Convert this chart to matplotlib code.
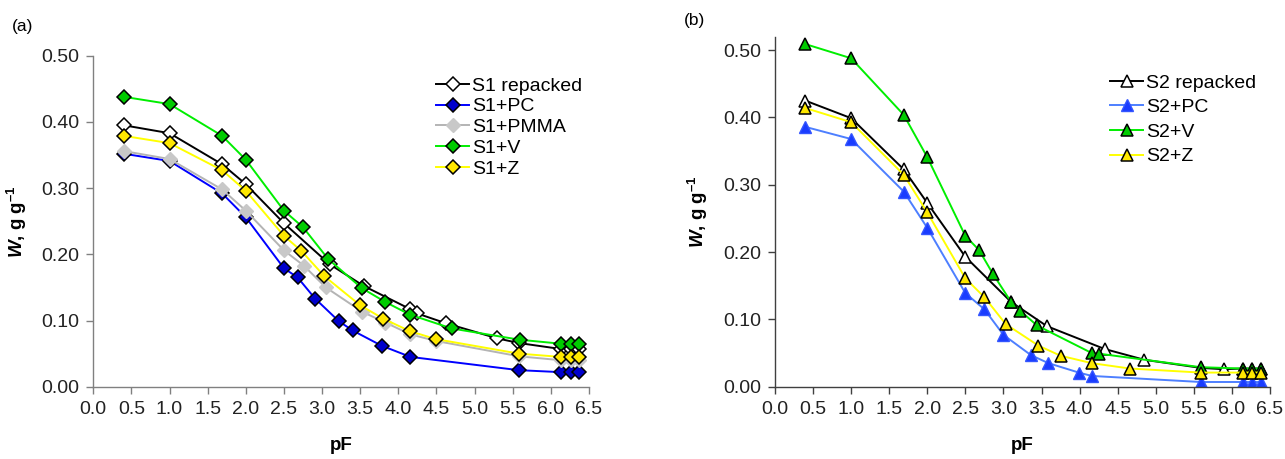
import matplotlib
matplotlib.use("Agg")
import matplotlib.pyplot as plt
from matplotlib.ticker import FormatStrFormatter, MultipleLocator

plt.rcParams['font.family'] = ['Liberation Sans', 'DejaVu Sans']
plt.rcParams['mathtext.fontset'] = 'custom'
plt.rcParams['mathtext.rm'] = 'Liberation Sans'
plt.rcParams['mathtext.bf'] = 'Liberation Sans:bold'
plt.rcParams['mathtext.it'] = 'Liberation Sans:italic'
plt.rcParams['mathtext.bfit'] = 'Liberation Sans:bold:italic'

# ---- (a) soil S1 ----
s1_rep_pf = [0.40, 1.00, 1.69, 2.00, 2.50, 3.10, 3.55, 4.16, 4.24, 4.62, 5.30, 5.58, 6.13, 6.26, 6.37]
s1_rep_w = [0.395, 0.383, 0.336, 0.306, 0.247, 0.185, 0.152, 0.117, 0.111, 0.096, 0.073, 0.066, 0.057, 0.057, 0.057]

s1_pc_pf = [0.40, 1.00, 1.69, 2.00, 2.50, 2.68, 2.91, 3.22, 3.40, 3.78, 4.16, 5.58, 6.13, 6.26, 6.37]
s1_pc_w = [0.352, 0.341, 0.292, 0.256, 0.179, 0.165, 0.133, 0.099, 0.085, 0.062, 0.045, 0.025, 0.022, 0.022, 0.022]

s1_pmma_pf = [0.40, 1.00, 1.69, 2.00, 2.50, 2.76, 3.05, 3.53, 3.83, 4.16, 4.50, 5.58, 6.13, 6.26, 6.37]
s1_pmma_w = [0.356, 0.344, 0.298, 0.266, 0.206, 0.183, 0.150, 0.113, 0.097, 0.079, 0.069, 0.046, 0.040, 0.040, 0.040]

s1_v_pf = [0.40, 1.00, 1.69, 2.00, 2.50, 2.75, 3.08, 3.52, 3.83, 4.15, 4.70, 5.59, 6.13, 6.26, 6.37]
s1_v_w = [0.438, 0.427, 0.379, 0.343, 0.266, 0.241, 0.193, 0.149, 0.128, 0.109, 0.088, 0.071, 0.065, 0.065, 0.065]

s1_z_pf = [0.40, 1.00, 1.69, 2.00, 2.50, 2.73, 3.03, 3.50, 3.80, 4.15, 4.49, 5.58, 6.13, 6.26, 6.37]
s1_z_w = [0.379, 0.368, 0.327, 0.296, 0.228, 0.205, 0.167, 0.123, 0.103, 0.084, 0.072, 0.050, 0.045, 0.045, 0.045]

# ---- (b) soil S2 ----
s2_rep_pf = [0.40, 1.00, 1.69, 2.00, 2.50, 3.10, 3.57, 4.33, 4.85, 5.59, 5.89, 6.14, 6.27, 6.38]
s2_rep_w = [0.425, 0.399, 0.323, 0.273, 0.193, 0.126, 0.090, 0.056, 0.040, 0.028, 0.026, 0.027, 0.027, 0.027]

s2_pc_pf = [0.40, 1.00, 1.69, 2.00, 2.50, 2.75, 3.00, 3.36, 3.59, 3.99, 4.16, 5.59, 6.14, 6.27, 6.38]
s2_pc_w = [0.386, 0.368, 0.290, 0.236, 0.139, 0.115, 0.077, 0.047, 0.035, 0.021, 0.016, 0.007, 0.007, 0.007, 0.007]

s2_v_pf = [0.40, 1.00, 1.69, 2.00, 2.50, 2.68, 2.86, 3.10, 3.22, 3.44, 4.16, 4.26, 5.59, 6.14, 6.27, 6.38]
s2_v_w = [0.509, 0.488, 0.404, 0.341, 0.224, 0.203, 0.168, 0.126, 0.113, 0.091, 0.050, 0.049, 0.029, 0.027, 0.027, 0.027]

s2_z_pf = [0.40, 1.00, 1.69, 2.00, 2.50, 2.75, 3.03, 3.46, 3.75, 4.16, 4.66, 5.59, 6.14, 6.27, 6.38]
s2_z_w = [0.414, 0.393, 0.315, 0.259, 0.161, 0.133, 0.093, 0.061, 0.046, 0.035, 0.027, 0.021, 0.021, 0.021, 0.021]

fig = plt.figure(figsize=(12.85, 4.59), dpi=100)
ax1 = fig.add_axes([0.0726, 0.1575, 0.3857, 0.721])
ax2 = fig.add_axes([0.6031, 0.1575, 0.3852, 0.7625])


def style_axis(ax, ytop, spine_col):
    ax.set_xlim(0, 6.5)
    ax.set_ylim(0, ytop)
    ax.xaxis.set_major_locator(MultipleLocator(0.5))
    ax.yaxis.set_major_locator(MultipleLocator(0.1))
    ax.xaxis.set_major_formatter(FormatStrFormatter('%.1f'))
    ax.yaxis.set_major_formatter(FormatStrFormatter('%.2f'))
    for s in ['top', 'right']:
        ax.spines[s].set_visible(False)
    for s in ['left', 'bottom']:
        ax.spines[s].set_color(spine_col)
        ax.spines[s].set_linewidth(1.0)
    ax.tick_params(direction='out', length=5, width=1.0, color=spine_col,
                   labelsize=14, labelcolor='#222222', pad=5)
    ax.set_xlabel('pF', fontsize=13.5, fontweight='bold', labelpad=14)
    # en dash keeps the superscript minus short, as in the printed label
    ax.set_ylabel(r'$\boldsymbol{W}$, g g$^{\mathbf{–1}}$', fontsize=13.5,
                  fontweight='bold', labelpad=9)


dia = dict(marker='D', markersize=7, markeredgecolor='black', markeredgewidth=1.1, linewidth=1.4)
ax1.plot(s1_rep_pf, s1_rep_w, color='black', markerfacecolor='white', label='S1 repacked', **dia)
ax1.plot(s1_pc_pf, s1_pc_w, color='#0000FF', markerfacecolor='#0000CC', label='S1+PC', **dia)
ax1.plot(s1_pmma_pf, s1_pmma_w, color='#B4B4B4', marker='D', markersize=7,
         markerfacecolor='#C8C8C8', markeredgecolor='#C8C8C8', linewidth=1.4, label='S1+PMMA')
ax1.plot(s1_v_pf, s1_v_w, color='#00EE00', markerfacecolor='#00CC00', label='S1+V', **dia)
ax1.plot(s1_z_pf, s1_z_w, color='#FFFF00', markerfacecolor='#FFE800', label='S1+Z', **dia)
style_axis(ax1, 0.50, '#808080')

tri = dict(marker='^', markersize=8.5, markeredgecolor='black', markeredgewidth=1.1, linewidth=1.4)
ax2.plot(s2_rep_pf, s2_rep_w, color='black', markerfacecolor='white', label='S2 repacked', **tri)
ax2.plot(s2_pc_pf, s2_pc_w, color='#4D7FFF', marker='^', markersize=8.5,
         markerfacecolor='#1A3CFF', markeredgecolor='#3355FF', linewidth=1.4, label='S2+PC')
ax2.plot(s2_v_pf, s2_v_w, color='#00EE00', markerfacecolor='#00CC00', label='S2+V', **tri)
ax2.plot(s2_z_pf, s2_z_w, color='#FFFF00', markerfacecolor='#FFE800', label='S2+Z', **tri)
style_axis(ax2, 0.52, '#404040')

leg_kw = dict(frameon=False, fontsize=14, handlelength=1.7, handletextpad=0.15,
              borderaxespad=0, borderpad=0)
ax1.legend(loc='upper left', bbox_to_anchor=(436 / 1285, 1 - 77 / 459),
           bbox_transform=fig.transFigure, labelspacing=0.16, **leg_kw)
ax2.legend(loc='upper left', bbox_to_anchor=(1110 / 1285, 1 - 74 / 459),
           bbox_transform=fig.transFigure, labelspacing=0.36, **leg_kw)

fig.text(12 / 1285, 1 - 26 / 459, '(a)', fontsize=12.5, va='center')
fig.text(684 / 1285, 1 - 20 / 459, '(b)', fontsize=12.5, va='center')

fig.savefig('out.png', dpi=100)
